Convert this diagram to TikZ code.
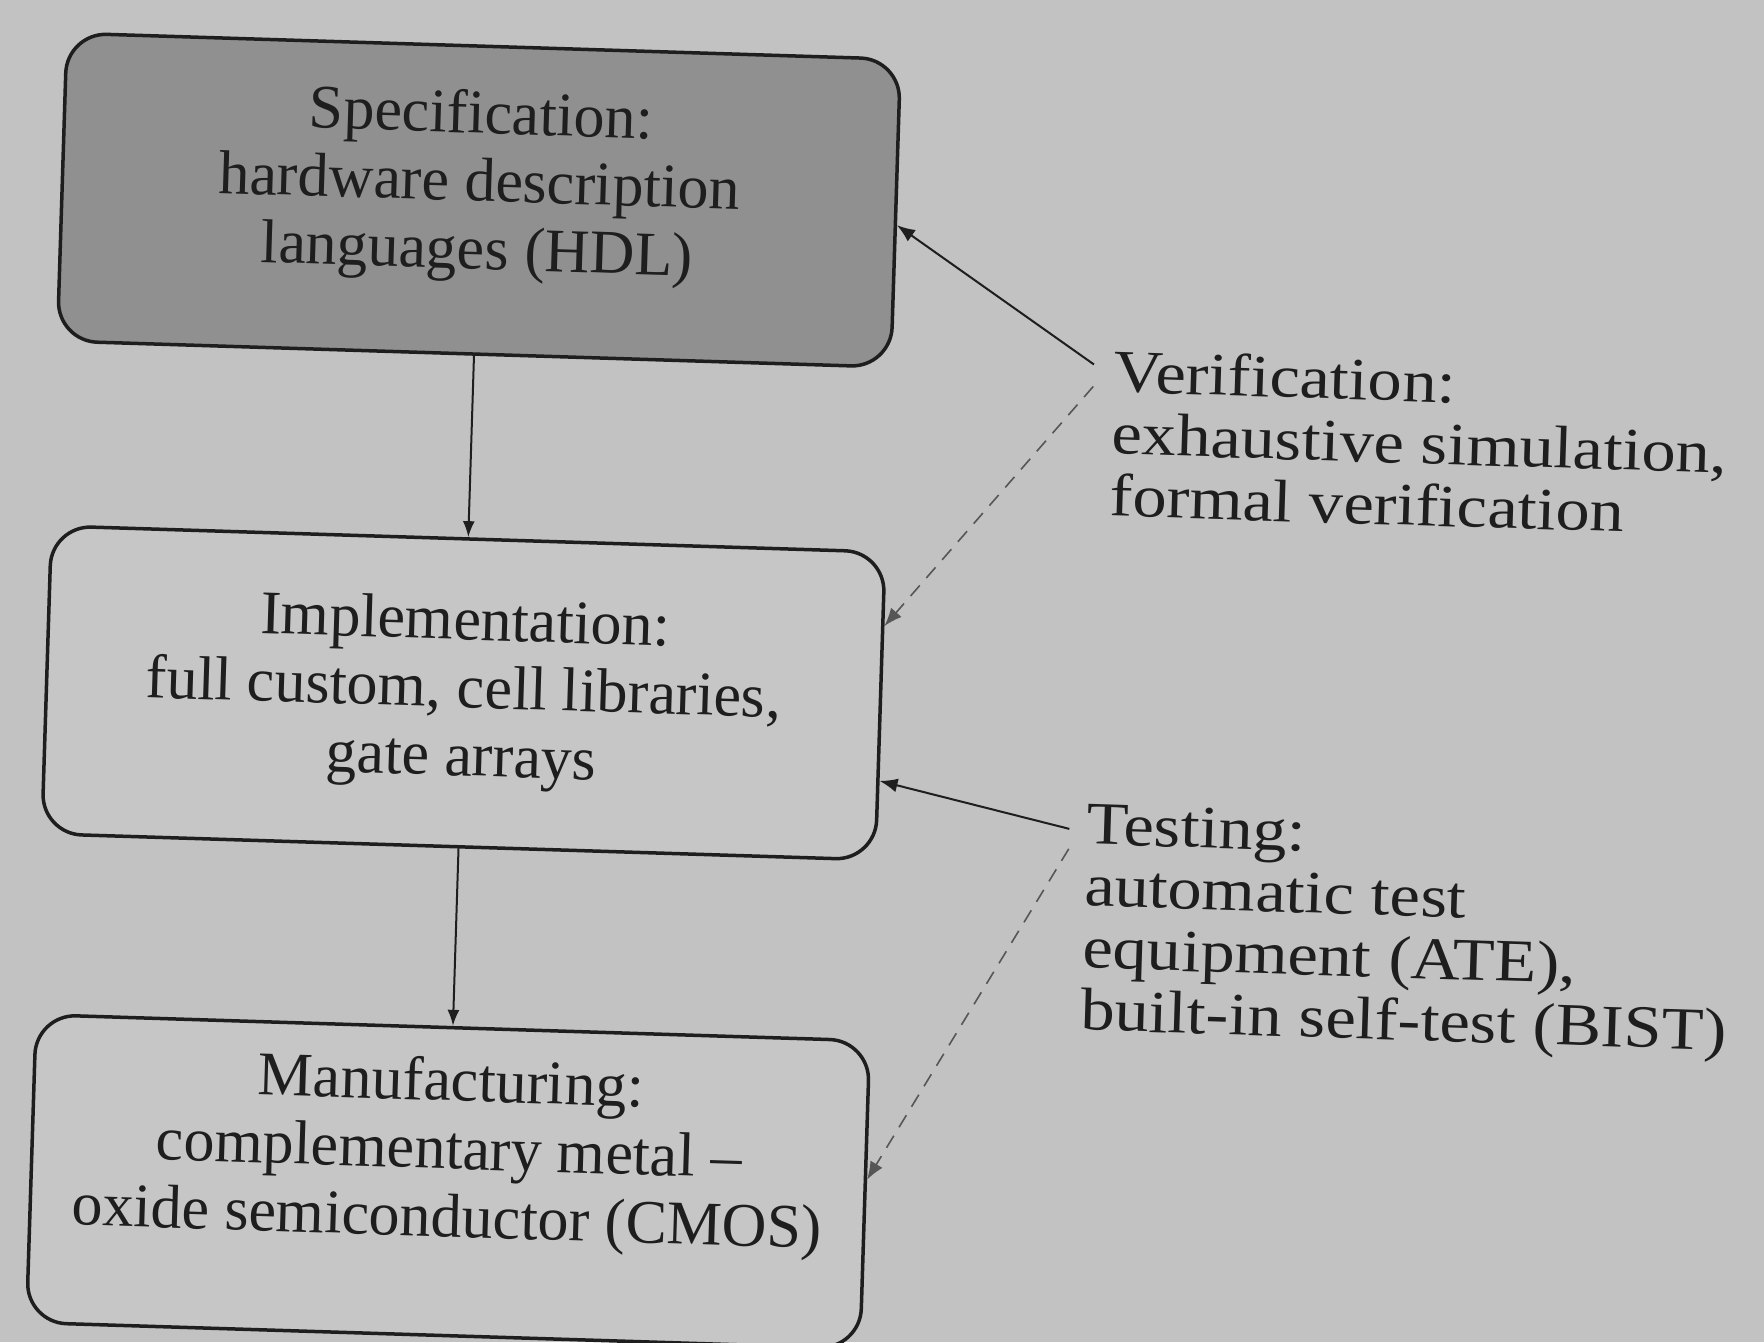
\documentclass[tikz,border=0pt]{standalone}
\usepackage{fontspec}
\setmainfont{Liberation Serif}
\newfontfamily\notefont[FakeStretch=1.14]{Liberation Serif}
\usetikzlibrary{arrows.meta}
\definecolor{paper}{HTML}{C2C2C2}
\definecolor{specfill}{HTML}{909090}
\definecolor{boxfill}{HTML}{C6C6C6}
\definecolor{ink}{HTML}{1E1E1E}
\begin{document}
\begin{tikzpicture}[x=1pt,y=-1pt,
  stage/.style={draw=ink, line width=3.5pt, rounded corners=40pt,
    minimum width=834pt, minimum height=308pt, inner sep=0pt},
  stagetext/.style={align=center, inner sep=0pt,
    font=\fontsize{62}{68}\selectfont, text=ink},
  note/.style={align=left, anchor=west, inner sep=0pt,
    font=\notefont\fontsize{60}{62}\selectfont, text=ink},
  flow/.style={draw=ink, line width=2pt, -{Latex[length=16pt,width=12pt]}},
  link/.style={draw=ink, line width=2pt, -{Latex[length=18pt,width=14pt]}},
  faintlink/.style={draw=ink!75, line width=1.6pt, dashed,
    dash pattern=on 14pt off 10pt, -{Latex[length=18pt,width=14pt]}},
]
\useasboundingbox (0,0) rectangle (1764,1342);
\fill[paper] (0,0) rectangle (1764,1342);
\begin{scope}[rotate=-1.8, transform shape]
  % design flow: three stages
  \node[stage, fill=specfill] (spec) at (485,185) {};
  \node[stage, fill=boxfill] (impl) at (485,678) {};
  \node[stage, fill=boxfill] (mfg) at (485,1167) {};
  \node[stagetext] (spectext) at ([yshift=14pt]spec.center)
    {Specification:\\hardware description\\languages (HDL)};
  \node[stagetext] (impltext) at (impl.center)
    {Implementation:\\full custom, cell libraries,\\gate arrays};
  \node[stagetext] (mfgtext) at ([yshift=28pt]mfg.center)
    {Manufacturing:\\complementary metal --\\oxide semiconductor (CMOS)};
  \draw[flow] (spec) -- (impl);
  \draw[flow] (impl) -- (mfg);
  % checking activities beside the flow
  \node[note] (ver) at (1125,398)
    {Verification:\\exhaustive simulation,\\formal verification};
  \node[note] (tst) at (1112,889)
    {Testing:\\automatic test\\equipment (ATE),\\built-in self-test (BIST)};
  \coordinate (v1) at (1105,330);
  \coordinate (v2) at (1105,352);
  \coordinate (t1) at (1095,795);
  \coordinate (t2) at (1095,815);
  \draw[link] (v1) -- ([yshift=-12pt]spec.east);
  \draw[faintlink] (v2) -- ([yshift=80pt]impl.east);
  \draw[link] (t1) -- ([yshift=-75pt]impl.east);
  \draw[faintlink] (t2) -- ([yshift=15pt]mfg.east);
\end{scope}
\end{tikzpicture}
\end{document}
